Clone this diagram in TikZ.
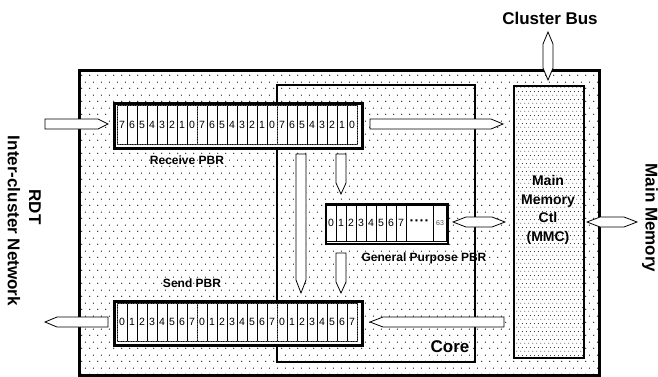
\documentclass[tikz,border=0pt]{standalone}
\usepackage{fontspec}
\setmainfont{Liberation Sans}
\usetikzlibrary{calc,patterns,positioning}

% dot fills
\pgfdeclarepatternformonly{sparsedots}{\pgfqpoint{0pt}{0pt}}{\pgfqpoint{8pt}{13pt}}{\pgfqpoint{8pt}{13pt}}{%
    \pgfpathcircle{\pgfqpoint{2pt}{3pt}}{0.65pt}%
    \pgfpathcircle{\pgfqpoint{6pt}{9.5pt}}{0.65pt}%
    \pgfusepath{fill}}
\pgfdeclarepatternformonly{densedots}{\pgfqpoint{0pt}{0pt}}{\pgfqpoint{4pt}{8pt}}{\pgfqpoint{4pt}{8pt}}{%
    \pgfpathcircle{\pgfqpoint{1pt}{2pt}}{0.55pt}%
    \pgfpathcircle{\pgfqpoint{3pt}{6pt}}{0.55pt}%
    \pgfusepath{fill}}

\tikzset{
    chipbox/.style={draw, line width=2.7pt, pattern=sparsedots, inner sep=0pt, anchor=north west},
    corebox/.style={draw, line width=2.2pt, inner sep=0pt, anchor=north west},
    mmcbox/.style={draw, line width=2pt, preaction={fill=white}, pattern=densedots, inner sep=0pt, anchor=north west},
    pbr/.style={draw, fill=white, line width=2.5pt, inner sep=0pt, anchor=north west},
    cell/.style={draw, fill=white, line width=0.6pt, minimum width=10pt, minimum height=39pt, inner sep=0pt, font=\fontsize{10.5}{12}\selectfont},
    bytebox/.style={draw=black!70, dash pattern=on 1.5pt off 1pt, line width=0.9pt},
    title/.style={font=\bfseries\fontsize{17}{20}\selectfont},
    pbrname/.style={font=\bfseries\fontsize{12}{14}\selectfont},
    blockarrow/.style={draw, fill=white, line width=0.8pt, line join=miter},
}

% block arrow, tip at #3
\newcommand{\pbrarrow}[3][10pt]{%
    \coordinate (arr-h) at ($(#3)!#1!(#2)$);
    \draw[blockarrow] ($(#2)!5pt!90:(#3)$) -- ($(arr-h)!5pt!90:(#3)$) -- (#3)
        -- ($(arr-h)!5pt!-90:(#3)$) -- ($(#2)!5pt!-90:(#3)$) -- cycle;
}
% block arrow, tips at both ends
\newcommand{\busarrow}[3][12pt]{%
    \coordinate (arr-a) at ($(#2)!#1!(#3)$);
    \coordinate (arr-b) at ($(#3)!#1!(#2)$);
    \draw[blockarrow] (#2) -- ($(arr-a)!5pt!90:(#3)$) -- ($(arr-b)!5pt!90:(#3)$) -- (#3)
        -- ($(arr-b)!5pt!-90:(#3)$) -- ($(arr-a)!5pt!-90:(#3)$) -- cycle;
}

\begin{document}
\begin{tikzpicture}[x=1pt,y=-1pt]
    % Page
    \fill[white] (0,0) rectangle (658,376);
    \useasboundingbox (0,0) rectangle (658,376);

    % Boxes
    \node[chipbox, minimum width=520pt, minimum height=305pt] (chip) at (78,69) {};
    \node[corebox, minimum width=198pt, minimum height=277pt] (core) at (276,84) {};
    \node[mmcbox, minimum width=70pt, minimum height=272pt] (mmc) at (513,85) {};

    % Receive PBR
    \node[pbr, minimum width=248pt, minimum height=45pt] (rcv) at (113,102) {};
    \foreach \g in {0,1,2}{
        \foreach \c in {0,...,7}{
            \pgfmathtruncatemacro{\bit}{7-\c}
            \node[cell] (rcv-\g-\c) at (122+80*\g+10*\c,124.5) {\bit};
        }
        \draw[bytebox] (117+80*\g,105) rectangle +(80,39);
    }

    % Send PBR
    \node[pbr, minimum width=248pt, minimum height=44pt] (send) at (113,300) {};
    \foreach \g in {0,1,2}{
        \foreach \c in {0,...,7}
            \node[cell, minimum height=38pt] (send-\g-\c) at (122+80*\g+10*\c,322) {\c};
        \draw[bytebox] (117+80*\g,303) rectangle +(80,38);
    }

    % General purpose PBR
    \node[pbr, line width=2pt, minimum width=122pt, minimum height=40pt] (gp) at (325,203) {};
    \foreach \c in {0,...,7}
        \node[cell, minimum height=36pt] (gp-\c) at (331+10*\c,223) {\c};
    \node[cell, minimum width=27pt, minimum height=36pt, font=\bfseries\fontsize{14}{14}\selectfont] (gp-dots) at (419.5,223) {·\kern0.3pt·\kern0.3pt·\kern0.3pt·};
    \node[cell, minimum width=13pt, minimum height=36pt, font=\fontsize{7}{8}\selectfont, text=black!70] (gp-63) at (440,223) {63};

    % Labels
    \node[title] (bus) at (550,18) {Cluster Bus};
    \node[title, rotate=-90] (mem) at (650,218) {Main Memory};
    \node[title, rotate=-90] (rdt) at (35,207) {RDT};
    \node[title, rotate=-90] (icn) at (14,221) {Inter-cluster Network};
    \node[title] (corelbl) at (450,347) {Core};
    \node[font=\bfseries\fontsize{14}{18.5}\selectfont, align=center] (mmclbl) at (548,210) {Main\\Memory\\Ctl\\(MMC)};
    \node[pbrname] (rcvlbl) at (187,160) {Receive PBR};
    \node[pbrname] (sendlbl) at (192,283) {Send PBR};
    \node[pbrname] (gplbl) at (424,258) {General Purpose PBR};

    % Arrow ends
    \coordinate (rdt-in) at (45,124);
    \coordinate (rcv-in) at (108,124);
    \coordinate (rcv-out) at (370,124);
    \coordinate (mmc-in) at (503,124);
    \coordinate (rcv-down) at (301,154);
    \coordinate (send-top) at (301,293);
    \coordinate (rcv-gp) at (341,154);
    \coordinate (gp-top) at (341,194);
    \coordinate (gp-down) at (341,253);
    \coordinate (send-gp) at (341,293);
    \coordinate (gp-out) at (453,222);
    \coordinate (mmc-gp) at (505,222);
    \coordinate (mmc-out) at (587,222);
    \coordinate (mem-in) at (637,222);
    \coordinate (mmc-send) at (504,322);
    \coordinate (send-in) at (370,322);
    \coordinate (send-out) at (108,322);
    \coordinate (rdt-out) at (45,322);
    \coordinate (bus-top) at (548,32);
    \coordinate (bus-bot) at (548,80);

    % Arrows
    \pbrarrow[10pt]{rdt-in}{rcv-in}
    \pbrarrow[12pt]{rcv-out}{mmc-in}
    \pbrarrow[13pt]{rcv-down}{send-top}
    \pbrarrow[11pt]{rcv-gp}{gp-top}
    \pbrarrow[11pt]{gp-down}{send-gp}
    \busarrow[13pt]{gp-out}{mmc-gp}
    \busarrow[13pt]{mmc-out}{mem-in}
    \pbrarrow[13pt]{mmc-send}{send-in}
    \pbrarrow[12pt]{send-out}{rdt-out}
    \busarrow[12pt]{bus-top}{bus-bot}
\end{tikzpicture}
\end{document}
